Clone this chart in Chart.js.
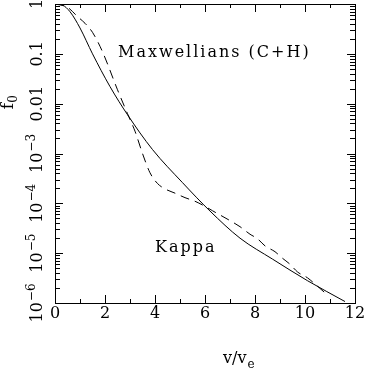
<!DOCTYPE html>
<html>
<head>
<meta charset="utf-8">
<script src="https://cdn.jsdelivr.net/npm/chart.js@4"></script>
<style>
  html, body { margin: 0; padding: 0; background: white; }
  canvas { display: block; }
</style>
</head>
<body>
<canvas id="fchart" width="366" height="374"></canvas>
<script>
// kappa distribution (solid)
const kappaV = [0, 0.3, 0.6, 1.0, 1.5, 2.2, 2.9, 3.9, 5.1, 6.2, 7.4, 8.7, 10.1, 11.6];
const kappaF = [1, 0.95, 0.7, 0.33, 0.1, 0.022, 6e-3, 1.2e-3, 2.6e-4, 7e-5, 2e-5, 7.6e-6, 2.8e-6, 1.07e-6];

// core + halo maxwellians (dashed)
const maxwV = [0, 0.5, 0.9, 1.2, 1.5, 1.9, 2.5, 2.9, 3.2, 3.5, 3.8, 4.1, 4.4, 4.8, 5.2, 5.6, 6.0, 6.3, 7.0, 7.4, 7.8, 8.1, 8.4, 8.8, 9.1, 9.4, 9.7, 10.1, 10.4, 10.8];
const maxwF = [1, 0.86, 0.56, 0.41, 0.27, 0.11, 0.019, 6.3e-3, 2.8e-3, 1e-3, 4.1e-4, 2.5e-4, 1.95e-4, 1.6e-4, 1.3e-4, 1.1e-4, 8.7e-5, 7.1e-5, 4.5e-5, 3.4e-5, 2.4e-5, 1.95e-5, 1.4e-5, 1.07e-5, 7.9e-6, 6e-6, 4.2e-6, 3.2e-6, 2.4e-6, 1.6e-6];

const xTicks = [0, 2, 4, 6, 8, 10, 12];
const yTickValues = [1e-6, 1e-5, 1e-4, 1e-3, 0.01, 0.1, 1];
const yTickLabels = ['10^−6', '10^−5', '10^−4', '10^−3', '0.01', '0.1', '1'];

const FONT = '"DejaVu Serif", serif';

const toPoints = (xs, ys) => xs.map((x, i) => ({x: x, y: ys[i]}));

function drawRotated(ctx, text, x, y, size) {
    // text reads bottom to top, centred on (x, y)
    const [base, sup] = text.split('^');
    ctx.save();
    ctx.translate(x, y);
    ctx.rotate(-Math.PI / 2);
    ctx.textBaseline = 'middle';
    ctx.textAlign = 'left';
    ctx.font = size + 'px ' + FONT;
    const w1 = ctx.measureText(base).width;
    let w2 = 0;
    if (sup) {
        ctx.font = Math.round(size * 0.75) + 'px ' + FONT;
        w2 = ctx.measureText(sup).width + 1;
    }
    const start = -(w1 + w2) / 2;
    ctx.font = size + 'px ' + FONT;
    ctx.fillText(base, start, 0);
    if (sup) {
        ctx.font = Math.round(size * 0.75) + 'px ' + FONT;
        ctx.fillText(sup, start + w1 + 1, -6);
    }
    ctx.restore();
}

const framePlugin = {
    id: 'frame',
    afterDraw(chart) {
        const ctx = chart.ctx;
        const {left, right, top, bottom} = chart.chartArea;
        const xs = chart.scales.x, ys = chart.scales.y;
        ctx.save();
        ctx.strokeStyle = '#000';
        ctx.fillStyle = '#000';
        ctx.lineWidth = 1;
        ctx.strokeRect(left + 0.5, top + 0.5, right - left, bottom - top);

        ctx.beginPath();
        // x ticks, bottom and top, pointing inward
        for (let v = 0; v <= 12; v++) {
            const px = Math.round(xs.getPixelForValue(v)) + 0.5;
            const len = v % 2 === 0 ? 8 : 4;
            ctx.moveTo(px, bottom); ctx.lineTo(px, bottom - len);
            ctx.moveTo(px, top); ctx.lineTo(px, top + len);
        }
        // y ticks, log minor ticks
        for (let e = -6; e <= 0; e++) {
            for (let m = 1; m <= 9; m++) {
                const val = m * Math.pow(10, e);
                if (val > 1) break;
                const py = Math.round(ys.getPixelForValue(val)) + 0.5;
                const len = m === 1 ? 8 : 5;
                ctx.moveTo(left, py); ctx.lineTo(left + len, py);
                ctx.moveTo(right, py); ctx.lineTo(right - len, py);
            }
        }
        ctx.stroke();

        // x tick labels
        ctx.font = '16px ' + FONT;
        ctx.textAlign = 'center';
        ctx.textBaseline = 'middle';
        xTicks.forEach(v => {
            ctx.fillText(String(v), xs.getPixelForValue(v), 314);
        });

        // y tick labels, rotated
        yTickValues.forEach((v, i) => {
            drawRotated(ctx, yTickLabels[i], 38, ys.getPixelForValue(v), 16);
        });

        // axis titles
        ctx.font = '16px ' + FONT;
        ctx.textAlign = 'left';
        ctx.fillText('v/v', 223, 359);
        const w = ctx.measureText('v/v').width;
        ctx.font = '12px ' + FONT;
        ctx.fillText('e', 223 + w + 1, 365);

        ctx.save();
        ctx.translate(9, 106);
        ctx.rotate(-Math.PI / 2);
        ctx.font = '17px ' + FONT;
        ctx.textAlign = 'center';
        ctx.fillText('f', 0, 0);
        ctx.font = '12px ' + FONT;
        ctx.fillText('0', 7, 5);
        ctx.restore();

        // curve annotations
        ctx.font = '16px ' + FONT;
        ctx.textAlign = 'left';
        ctx.letterSpacing = '2px';
        ctx.fillText('Maxwellians (C+H)', 118, 53);
        ctx.fillText('Kappa', 155, 248);
        ctx.restore();
    }
};

new Chart(document.getElementById('fchart'), {
    type: 'line',
    data: {
        datasets: [
            {
                label: 'Kappa',
                data: toPoints(kappaV, kappaF),
                borderColor: '#000',
                borderWidth: 1,
                pointRadius: 0,
                cubicInterpolationMode: 'monotone'
            },
            {
                label: 'Maxwellians (C+H)',
                data: toPoints(maxwV, maxwF),
                borderColor: '#000',
                borderWidth: 1,
                borderDash: [9, 6],
                pointRadius: 0,
                cubicInterpolationMode: 'monotone'
            }
        ]
    },
    options: {
        responsive: false,
        animation: false,
        layout: {
            padding: {left: 55, top: 4, right: 11, bottom: 71}
        },
        plugins: {
            legend: {display: false},
            tooltip: {enabled: false}
        },
        scales: {
            x: {type: 'linear', min: 0, max: 12, display: false},
            y: {type: 'logarithmic', min: 1e-6, max: 1, display: false}
        }
    },
    plugins: [framePlugin]
});
</script>
</body>
</html>
